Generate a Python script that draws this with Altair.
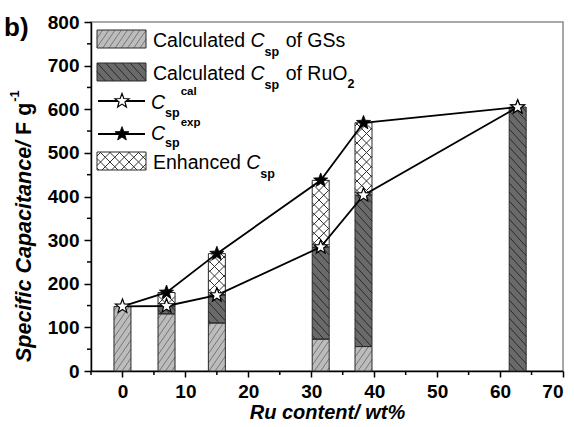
import math
import altair as alt
import pandas as pd

# ---------------- data ----------------
ru_content = [0, 7, 15, 31.5, 38.3, 62.8]          # Ru content / wt%
gs_calc = [148, 131, 110, 73, 56, 0]              # calculated Csp of GSs
ruo2_calc = [0, 18, 64, 211, 347, 605]            # calculated Csp of RuO2
csp_cal = [148, 149, 174, 284, 403, 605]          # Csp cal
csp_exp = [148, 180, 269, 437, 569, 605]          # Csp exp

x_ticks = [0, 10, 20, 30, 40, 50, 60, 70]
x_minor = [-5, 5, 15, 25, 35, 45, 55, 65]
y_ticks = [0, 100, 200, 300, 400, 500, 600, 700, 800]
y_minor = [50, 150, 250, 350, 450, 550, 650, 750]

# ---------------- geometry ----------------
W, H = 472, 349
PADL, PADT = 91, 22
XMIN, XMAX = -5, 70
YMIN, YMAX = 0, 800
SX = W / (XMAX - XMIN)
SY = H / (YMAX - YMIN)
BAR_W = 2.7
FONT = "Liberation Sans"


def px_to_x(px):
    return px / SX + XMIN


def up_to_y(yup):
    return yup / SY + YMIN


def scr_x(x):  # screen pixel -> data
    return px_to_x(x - PADL)


def scr_y(y):
    return up_to_y(H - (y - PADT))


def hatch(X0, X1, Y0, Y1, slope, spacing):
    """lines Y = slope*X + c inside rectangle (pixel coords, Y up)."""
    corners = [(X0, Y0), (X0, Y1), (X1, Y0), (X1, Y1)]
    cs = [yy - slope * xx for xx, yy in corners]
    n0 = math.ceil(min(cs) / spacing)
    n1 = math.floor(max(cs) / spacing)
    out = []
    for n in range(n0, n1 + 1):
        c = n * spacing
        xa = (Y0 - c) / slope
        xb = (Y1 - c) / slope
        lo = max(X0, min(xa, xb))
        hi = min(X1, max(xa, xb))
        if hi - lo > 0.4:
            out.append((lo, slope * lo + c, hi, slope * hi + c))
    return out


PATTERNS = {
    "gs": dict(fill="#bcbcbc", lines=[(1.45, 9.0)], color="#777777"),
    "ru": dict(fill="#6a6a6a", lines=[(-1.1, 9.0)], color="#2a2a2a"),
    "en": dict(fill="#ffffff", lines=[(1.0, 9.5), (-1.0, 9.5)], color="#333333"),
}

# ---------------- bar segments ----------------
seg_rows = []
for xi, g, r, cal, ex in zip(ru_content, gs_calc, ruo2_calc, csp_cal, csp_exp):
    xa, xb = xi - BAR_W / 2, xi + BAR_W / 2
    if g > 0:
        seg_rows.append(dict(x=xa, x2=xb, y=0, y2=g, kind="gs"))
    if r > 0:
        seg_rows.append(dict(x=xa, x2=xb, y=g, y2=g + r, kind="ru"))
    if ex > cal:
        seg_rows.append(dict(x=xa, x2=xb, y=cal, y2=ex, kind="en"))
segs = pd.DataFrame(seg_rows)

# legend swatches (screen pixel boxes -> data coords)
legend_boxes = [
    (97, 146, 30, 48, "gs"),
    (97, 146, 63, 81, "ru"),
    (97, 146, 152, 170, "en"),
]
sw_rows = []
for x0, x1, y0, y1, k in legend_boxes:
    sw_rows.append(dict(x=scr_x(x0), x2=scr_x(x1), y=scr_y(y1), y2=scr_y(y0), kind=k))
swatch = pd.DataFrame(sw_rows)

allrects = pd.concat([segs, swatch], ignore_index=True)

hatch_rows = []
for _, s in allrects.iterrows():
    X0 = (s.x - XMIN) * SX
    X1 = (s.x2 - XMIN) * SX
    Y0 = (s.y - YMIN) * SY
    Y1 = (s.y2 - YMIN) * SY
    p = PATTERNS[s.kind]
    for slope, sp in p["lines"]:
        for a, b, c, d in hatch(X0, X1, Y0, Y1, slope, sp):
            hatch_rows.append(dict(x=px_to_x(a), y=up_to_y(b), x2=px_to_x(c), y2=up_to_y(d), kind=s.kind))
hatches = pd.DataFrame(hatch_rows)

# series lines
series = pd.DataFrame(
    [dict(x=xv, y=v, s="cal", o=i) for i, (xv, v) in enumerate(zip(ru_content, csp_cal))]
    + [dict(x=xv, y=v, s="exp", o=i) for i, (xv, v) in enumerate(zip(ru_content, csp_exp))]
)
cal_pts = pd.DataFrame(dict(x=ru_content, y=csp_cal))
exp_pts = pd.DataFrame(dict(x=ru_content[1:], y=csp_exp[1:]))

# star path
pts = []
for k in range(10):
    ang = math.radians(-90 + 36 * k)
    rr = 1.0 if k % 2 == 0 else 0.42
    pts.append((rr * math.cos(ang), rr * math.sin(ang)))
STAR = "M" + " L".join(f"{a:.3f},{b:.3f}" for a, b in pts) + " Z"

# legend lines & stars
leg_lines = pd.DataFrame([
    dict(x=scr_x(98), x2=scr_x(145), y=scr_y(101)),
    dict(x=scr_x(98), x2=scr_x(145), y=scr_y(134)),
])
leg_cal_star = pd.DataFrame([dict(x=scr_x(122), y=scr_y(101))])
leg_exp_star = pd.DataFrame([dict(x=scr_x(122), y=scr_y(134))])

# legend text (Arial-metric widths)
REG = {' ': 278, 'C': 722, 'a': 556, 'l': 222, 'c': 500, 'u': 556, 't': 278, 'e': 556, 'd': 556,
       'o': 556, 'f': 278, 'G': 778, 'S': 667, 's': 500, 'R': 722, 'O': 778, 'E': 667, 'n': 556,
       'h': 556, 'p': 556, 'x': 500, '2': 556}
BOLD = {' ': 278, 'S': 667, 'p': 611, 'e': 556, 'c': 556, 'i': 278, 'f': 333, 'C': 722, 'a': 556,
        't': 333, 'n': 611, '/': 278, 'F': 611, 'g': 611, '-': 333, '1': 556, 's': 556, 'l': 278,
        'x': 556, '2': 556}


def tw(s, size, table):
    return sum(table.get(ch, 556) for ch in s) * size / 1000.0


LFS = 19.5
SUBFS = 12.5
SUPFS = 11.5
reg_t, ital_t, sub_t, sup_t = [], [], [], []
rows = [
    (153, 47, "Calculated ", " of GSs", None, None, 9),
    (153, 80, "Calculated ", " of RuO", "2", None, 9),
    (151, 109, "", "", None, "cal", 8),
    (151, 140, "", "", None, "exp", 7),
    (153, 169, "Enhanced ", "", None, None, 9),
]
for x0, base, pre, post, tail_sub, sup, sub_off in rows:
    cx = x0
    if pre:
        reg_t.append(dict(t=pre.strip(), x=scr_x(cx), y=scr_y(base)))
        cx += tw(pre, LFS, REG)
    ital_t.append(dict(t="C", x=scr_x(cx), y=scr_y(base)))
    cx += tw("C", LFS, REG)
    sub_t.append(dict(t="sp", x=scr_x(cx), y=scr_y(base + sub_off)))
    spw = tw("sp", SUBFS, BOLD)
    if sup:
        sup_t.append(dict(t=sup, x=scr_x(cx + spw + 1), y=scr_y(base - 14)))
    cx += spw + 1
    if post:
        reg_t.append(dict(t=post.strip(), x=scr_x(cx + tw(" ", LFS, REG)), y=scr_y(base)))
        cx += tw(post, LFS, REG)
    if tail_sub:
        sub_t.append(dict(t=tail_sub, x=scr_x(cx), y=scr_y(base + 8)))

# y title pieces (rotated)
YT_FS = 21.5
yt_x = 31
yt_y0 = 362
title_main = "Specific Capacitance/"
fg_start = yt_y0 - tw(title_main + " ", YT_FS, BOLD)
sup_start = fg_start - tw("F g", YT_FS, BOLD) - 1
yt_main = pd.DataFrame([dict(t=title_main, x=scr_x(yt_x), y=scr_y(yt_y0))])
yt_fg = pd.DataFrame([dict(t="F g", x=scr_x(yt_x), y=scr_y(fg_start))])
yt_sup = pd.DataFrame([dict(t="-1", x=scr_x(yt_x - 12), y=scr_y(sup_start))])
panel = pd.DataFrame([dict(t="b)", x=scr_x(4), y=scr_y(36))])

# ---------------- encodings ----------------
xscale = alt.Scale(domain=[XMIN, XMAX], nice=False, zero=False)
yscale = alt.Scale(domain=[YMIN, YMAX], nice=False, zero=False)
xaxis = alt.Axis(values=x_ticks, title="Ru content/ wt%", grid=False, labelFont=FONT,
                 labelFontSize=19, labelFontWeight="bold", labelColor="black", labelPadding=5,
                 tickSize=6, tickWidth=1.5, tickColor="black", domainColor="black", domainWidth=1.5,
                 titleFont=FONT, titleFontSize=20, titleFontWeight="bold", titleFontStyle="italic",
                 titleColor="black", titlePadding=1)
yaxis = alt.Axis(values=y_ticks, title=None, grid=False, labelFont=FONT, labelFontSize=19,
                 labelFontWeight="bold", labelColor="black", labelPadding=5, tickSize=7,
                 tickWidth=1.5, tickColor="black", domainColor="black", domainWidth=1.5)


def X(f="x"):
    return alt.X(f"{f}:Q", scale=xscale, axis=xaxis)


def Y(f="y"):
    return alt.Y(f"{f}:Q", scale=yscale, axis=yaxis)


kinds = ["gs", "ru", "en"]
fill_scale = alt.Scale(domain=kinds, range=[PATTERNS[k]["fill"] for k in kinds])
line_scale = alt.Scale(domain=kinds, range=[PATTERNS[k]["color"] for k in kinds])

fills = alt.Chart(allrects).mark_rect(strokeWidth=0).encode(
    x=X(), x2="x2:Q", y=Y(), y2="y2:Q",
    fill=alt.Fill("kind:N", scale=fill_scale, legend=None))

hatch_layer = alt.Chart(hatches).mark_rule().encode(
    x=X(), x2="x2:Q", y=Y(), y2="y2:Q",
    color=alt.Color("kind:N", scale=line_scale, legend=None),
    strokeWidth=alt.StrokeWidth("kind:N", scale=alt.Scale(domain=kinds, range=[1.0, 1.0, 1.4]),
                                legend=None))

outlines = alt.Chart(allrects).mark_rect(fill=None, stroke="#2a2a2a", strokeWidth=1.0).encode(
    x=X(), x2="x2:Q", y=Y(), y2="y2:Q")

lines = alt.Chart(series).mark_line(color="black", strokeWidth=1.8).encode(
    x=X(), y=Y(), detail="s:N", order="o:Q")

exp_stars = alt.Chart(exp_pts).mark_point(shape=STAR, size=220, filled=True, fill="black",
                                          stroke="black", strokeWidth=0.8, opacity=1).encode(x=X(), y=Y())
cal_stars = alt.Chart(cal_pts).mark_point(shape=STAR, size=220, filled=True, fill="white",
                                          stroke="black", strokeWidth=1.2, opacity=1).encode(x=X(), y=Y())

minor_x = alt.Chart(pd.DataFrame(dict(x=x_minor))).mark_rule(color="black", strokeWidth=1.5).encode(
    x=X(), y=alt.value(H), y2=alt.value(H + 4))
minor_y = alt.Chart(pd.DataFrame(dict(y=y_minor))).mark_rule(color="black", strokeWidth=1.5).encode(
    y=Y(), x=alt.value(0), x2=alt.value(-4))

leg_line_layer = alt.Chart(leg_lines).mark_rule(color="black", strokeWidth=1.8).encode(
    x=X(), x2="x2:Q", y=Y())
leg_cal = alt.Chart(leg_cal_star).mark_point(shape=STAR, size=220, filled=True, fill="white",
                                            stroke="black", strokeWidth=1.2, opacity=1).encode(x=X(), y=Y())
leg_exp = alt.Chart(leg_exp_star).mark_point(shape=STAR, size=220, filled=True, fill="black",
                                            stroke="black", strokeWidth=0.8, opacity=1).encode(x=X(), y=Y())


def text_layer(rows_, size, weight="normal", style="normal", angle=0, align="left"):
    return alt.Chart(pd.DataFrame(rows_) if isinstance(rows_, list) else rows_).mark_text(
        font=FONT, fontSize=size, fontWeight=weight, fontStyle=style, align=align,
        baseline="alphabetic", angle=angle, color="black").encode(x=X(), y=Y(), text="t:N")


layers = [
    fills, hatch_layer, outlines, lines, exp_stars, cal_stars, minor_x, minor_y,
    leg_line_layer, leg_cal, leg_exp,
    text_layer(reg_t, LFS),
    text_layer(ital_t, LFS, style="italic"),
    text_layer(sub_t, SUBFS, weight="bold"),
    text_layer(sup_t, SUPFS, weight="bold"),
    text_layer(yt_main, YT_FS, weight="bold", style="italic", angle=270),
    text_layer(yt_fg, YT_FS, weight="bold", angle=270),
    text_layer(yt_sup, 13, weight="bold", angle=270),
    text_layer(panel, 26, weight="bold"),
]

chart = alt.layer(*layers).properties(
    width=W, height=H,
    padding={"left": PADL, "top": PADT, "right": 574 - PADL - W, "bottom": 427 - PADT - H},
    autosize=alt.AutoSizeParams(type="none"),
    background="white",
).configure_view(stroke="#8c8c8c", strokeWidth=1.5)

chart.save("out.html", embed_options={"renderer": "svg", "actions": False})
